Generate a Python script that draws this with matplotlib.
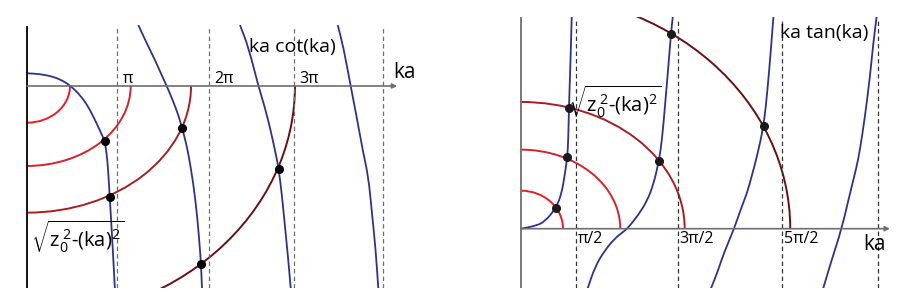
import matplotlib
matplotlib.use("Agg")
import matplotlib.pyplot as plt
from matplotlib.patches import Arc, PathPatch
from matplotlib.path import Path

plt.rcParams['font.family'] = ['Open Sans', 'DejaVu Sans']
plt.rcParams['mathtext.fontset'] = 'custom'
plt.rcParams['mathtext.rm'] = 'Open Sans'
plt.rcParams['mathtext.it'] = 'Open Sans'

# ---- left panel: ka cot(ka), horizontal unit = ka/pi ----
cot_asymptotes = [1.01, 2.04, 3.0, 4.0]
cot_tick_labels = ['π', '2π', '3π']
cot_z0 = [0.483, 1.165, 1.843, 3.011]
cot_depth = [0.532, 1.159, 1.836, 3.391]

cot_b1_x = [0.0, 0.146, 0.296, 0.408, 0.491, 0.596, 0.689, 0.764, 0.820, 0.871, 0.893, 0.912, 0.929, 0.954, 0.987]
cot_b1_y = [0.184, 0.174, 0.135, 0.072, 0.0, -0.13, -0.30, -0.493, -0.645, -0.793, -0.957, -1.217, -1.604, -2.13, -2.93]
cot_b2_x = [1.251, 1.345, 1.438, 1.513, 1.570, 1.644, 1.700, 1.742, 1.781, 1.812, 1.869, 1.913, 1.944, 1.955, 1.966]
cot_b2_y = [0.884, 0.619, 0.377, 0.159, 0.0, -0.227, -0.42, -0.604, -0.797, -0.975, -1.41, -1.894, -2.377, -2.584, -2.93]
cot_b3_x = [2.393, 2.487, 2.599, 2.693, 2.787, 2.828, 2.862, 2.899, 2.936, 2.963]
cot_b3_y = [0.884, 0.57, 0.0, -0.396, -0.928, -1.203, -1.555, -2.039, -2.522, -2.93]
cot_b4_x = [3.491, 3.554, 3.637, 3.704, 3.779, 3.835, 3.873, 3.918, 3.947]
cot_b4_y = [0.884, 0.57, 0.0, -0.449, -0.975, -1.314, -1.797, -2.377, -2.93]

cot_dots_x = [0.871, 0.929, 1.742, 1.955, 2.828]
cot_dots_y = [-0.793, -1.604, -0.604, -2.584, -1.203]

# ---- right panel: ka tan(ka) ----
tan_asymptotes = [0.537, 1.529, 2.543, 3.48]
tan_tick_labels = ['π/2', '3π/2', '5π/2']
tan_z0 = [0.410, 0.969, 1.597, 2.627]
tan_height = [0.475, 0.988, 1.584, 2.94]

tan_b1_x = [0.0, 0.137, 0.234, 0.344, 0.397, 0.429, 0.452, 0.461, 0.468, 0.478, 0.488, 0.495]
tan_b1_y = [0.0, 0.034, 0.0875, 0.265, 0.4425, 0.6925, 0.8925, 1.109, 1.5125, 1.9, 2.3175, 2.65]
tan_b2_x = [0.651, 0.722, 0.820, 0.917, 0.998, 1.041, 1.144, 1.226, 1.291, 1.346, 1.376, 1.410, 1.439, 1.463, 1.481]
tan_b2_y = [-0.745, -0.475, -0.266, -0.12, -0.0375, 0.005, 0.171, 0.3375, 0.546, 0.846, 1.109, 1.609, 2.046, 2.434, 2.65]
tan_b3_x = [1.854, 1.925, 1.978, 2.075, 2.153, 2.205, 2.254, 2.302, 2.368, 2.405, 2.434, 2.463]
tan_b3_y = [-0.745, -0.516, -0.3075, -0.016, 0.275, 0.4425, 0.671, 0.9, 1.284, 1.734, 2.171, 2.65]
tan_b4_x = [2.949, 3.031, 3.129, 3.210, 3.275, 3.307, 3.356, 3.405, 3.437, 3.470]
tan_b4_y = [-0.745, -0.391, 0.0, 0.4425, 0.775, 0.984, 1.4, 1.9, 2.3175, 2.65]

tan_dots_x = [0.344, 0.452, 0.471, 1.346, 1.463, 2.368]
tan_dots_y = [0.265, 0.8925, 1.5125, 0.846, 2.434, 1.284]

blue = '#2e3192'
reds = ['#ed1c24', '#d2232a', '#a61e22', '#6b0e10']
gray = '#6e6e6e'
W, H = 914, 304

fig = plt.figure(figsize=(W / 100, H / 100), dpi=100)


def panel(px_left, px_top, px_right, px_bottom, xlim, ylim):
    ax = fig.add_axes([px_left / W, (H - px_bottom) / H,
                       (px_right - px_left) / W, (px_bottom - px_top) / H])
    ax.set_xlim(xlim)
    ax.set_ylim(ylim)
    ax.axis('off')
    return ax


def smooth_curve(ax, xs, ys):
    # quadratic bezier path, the read points act as control points
    pts = list(zip(xs, ys))
    verts = [pts[0]]
    codes = [Path.MOVETO]
    verts.append(((pts[0][0] + pts[1][0]) / 2, (pts[0][1] + pts[1][1]) / 2))
    codes.append(Path.LINETO)
    for i in range(1, len(pts) - 1):
        mid = ((pts[i][0] + pts[i + 1][0]) / 2, (pts[i][1] + pts[i + 1][1]) / 2)
        verts += [pts[i], mid]
        codes += [Path.CURVE3, Path.CURVE3]
    verts.append(pts[-1])
    codes.append(Path.LINETO)
    ax.add_patch(PathPatch(Path(verts, codes), fill=False, edgecolor=blue, lw=1.3))


# left
ax1 = panel(20, 25, 412, 288, (-0.0787, 4.326), (-2.928, 0.884))
for a in cot_asymptotes:
    ax1.plot([a, a], [-2.928, 0.855], color=gray, lw=0.9, ls=(0, (3.5, 2.5)))
ax1.plot([0, 0], [-2.928, 0.855], color='black', lw=1.3)
ax1.annotate('', xy=(4.16, 0), xytext=(0, 0),
             arrowprops=dict(arrowstyle='-|>', color=gray, lw=1.2, mutation_scale=7,
                             shrinkA=0, shrinkB=0))
for r, d, c in zip(cot_z0, cot_depth, reds):
    ax1.add_patch(Arc((0, 0), 2 * r, 2 * d, theta1=270, theta2=360, color=c, lw=1.4))
for bx, by in [(cot_b1_x, cot_b1_y), (cot_b2_x, cot_b2_y), (cot_b3_x, cot_b3_y), (cot_b4_x, cot_b4_y)]:
    smooth_curve(ax1, bx, by)
ax1.plot(cot_dots_x, cot_dots_y, 'o', color='black', ms=5.5, zorder=5)
for a, lab in zip(cot_asymptotes, cot_tick_labels):
    ax1.text(a + 0.065, 0.05, lab, fontsize=11.5, ha='left', va='baseline')
ax1.text(4.11, 0.12, 'ka', fontsize=15, ha='left', va='baseline')
ax1.text(2.5, 0.49, 'ka cot(ka)', fontsize=14, ha='left', va='baseline')
ax1.text(0.04, -1.92, r'$\sqrt{z_0^{\,2}\text{-}(ka)^2}$', fontsize=14.5, ha='left', va='top')

# right
ax2 = panel(515, 16.7, 900, 288.3, (-0.0585, 3.698), (-0.745, 2.65))
for a in tan_asymptotes:
    ax2.plot([a, a], [-0.745, 2.634], color='#333333', lw=0.9, ls=(0, (3.5, 2.5)))
ax2.plot([0, 0], [-0.745, 2.65], color=gray, lw=1.3)
ax2.annotate('', xy=(3.6, 0), xytext=(0, 0),
             arrowprops=dict(arrowstyle='-|>', color=gray, lw=1.2, mutation_scale=7,
                             shrinkA=0, shrinkB=0))
for r, h, c in zip(tan_z0, tan_height, reds):
    ax2.add_patch(Arc((0, 0), 2 * r, 2 * h, theta1=0, theta2=90, color=c, lw=1.4))
for bx, by in [(tan_b1_x, tan_b1_y), (tan_b2_x, tan_b2_y), (tan_b3_x, tan_b3_y), (tan_b4_x, tan_b4_y)]:
    smooth_curve(ax2, bx, by)
ax2.plot(tan_dots_x, tan_dots_y, 'o', color='#1a1a1a', ms=5.5, zorder=5)
for a, lab in zip(tan_asymptotes, tan_tick_labels):
    ax2.text(a + 0.02, -0.18, lab, fontsize=11.5, ha='left', va='baseline')
ax2.text(3.34, -0.27, 'ka', fontsize=15, ha='left', va='baseline')
ax2.text(2.53, 2.38, 'ka tan(ka)', fontsize=14, ha='left', va='baseline')
ax2.text(0.46, 1.81, r'$\sqrt{z_0^{\,2}\text{-}(ka)^2}$', fontsize=14.5, ha='left', va='top')

fig.savefig('out.png', dpi=100)
